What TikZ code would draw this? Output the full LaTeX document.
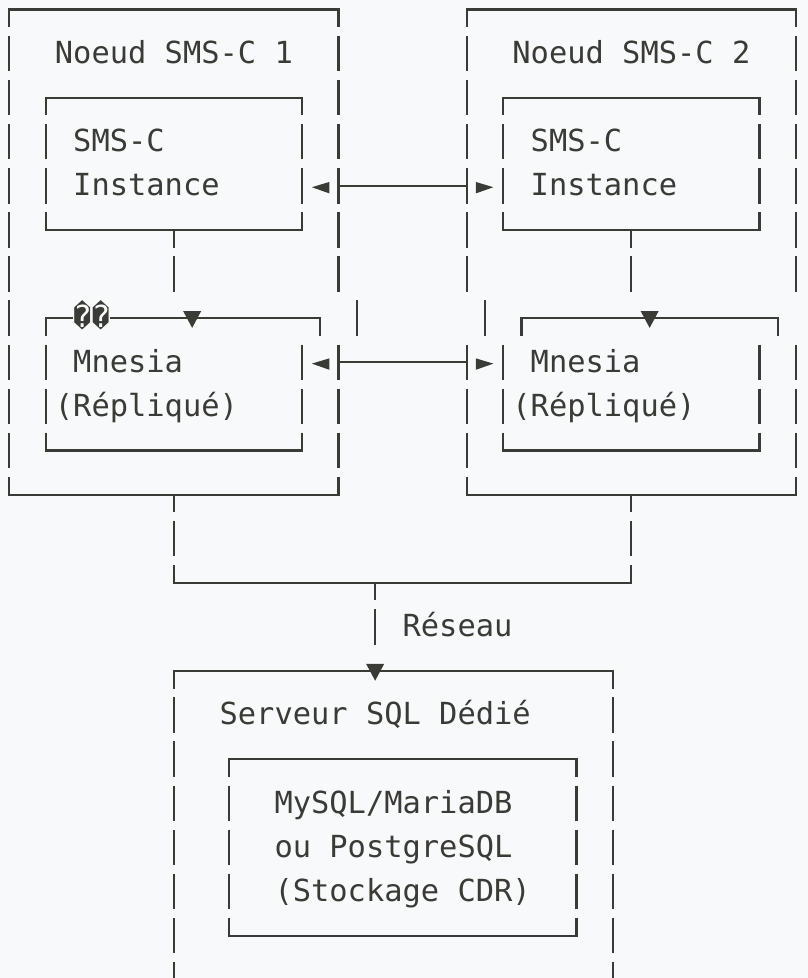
\documentclass[tikz,border=0pt]{standalone}
\usepackage{fontspec}
\usepackage{tikz}
\usetikzlibrary{positioning}
\newfontfamily\boxfont{DejaVu Sans Mono}
\definecolor{CodeInk}{HTML}{3A3B36}
\definecolor{CodePaper}{HTML}{F8F9FA}

\begin{document}
\begin{tikzpicture}[x=18.3pt, y=-44.1pt, color=CodeInk, line width=2.2pt, line cap=rect,
    every node/.style={inner sep=0pt, outer sep=0pt, anchor=base west,
                       font=\boxfont\fontsize{30.4pt}{44.1pt}\selectfont},
    vbar/.style={line cap=butt, dash pattern=on 35.4pt off 8.7pt, dash phase=17.8pt},
    vbarh/.style={vbar, dash phase=39.85pt}]
  \fill[CodePaper] (0pt,0pt) rectangle (808pt,-978pt);
  \useasboundingbox (0pt,0pt) rectangle (808pt,-978pt);
  \begin{scope}[shift={(9.15pt,-9.5pt)}]
  % noeud 1
  \draw (0,0) -- (18,0);
  \draw (0,11) -- (18,11);
  \draw[vbar] (0,0) -- (0,11);
  \draw[vbar] (18,0) -- (18,6.5);
  \draw[vbarh] (18,7.5) -- (18,11);
  \draw[vbarh] (19,6.5) -- (19,7.5);
  % noeud 2
  \draw (25,0) -- (43,0);
  \draw (25,11) -- (43,11);
  \draw[vbar] (25,0) -- (25,6.5);
  \draw[vbarh] (25,7.5) -- (25,11);
  \draw[vbarh] (26,6.5) -- (26,7.5);
  \draw[vbar] (43,0) -- (43,6.5);
  \draw[vbarh] (43,7.5) -- (43,11);
  % instances
  \draw (2,2) -- (16,2);
  \draw (2,5) -- (16,5);
  \draw[vbar] (2,2) -- (2,5);
  \draw[vbar] (16,2) -- (16,5);
  \draw (27,2) -- (41,2);
  \draw (27,5) -- (41,5);
  \draw[vbar] (27,2) -- (27,5);
  \draw[vbar] (41,2) -- (41,5);
  \draw[vbar] (9,5) -- (9,6.5);
  \draw[vbar] (34,5) -- (34,6.5);
  % mnesia
  \draw (2,7) -- (3.45,7);
  \draw (5.55,7) -- (17,7);
  \draw[vbar] (17,7) -- (17,7.5);
  \draw[vbar] (2,7) -- (2,10);
  \draw[vbarh] (16,7.5) -- (16,10);
  \draw (2,10) -- (16,10);
  \draw (28,7) -- (42,7);
  \draw[vbar] (28,7) -- (28,7.5);
  \draw[vbar] (42,7) -- (42,7.5);
  \draw[vbarh] (27,7.5) -- (27,10);
  \draw[vbarh] (41,7.5) -- (41,10);
  \draw (27,10) -- (41,10);
  % liens entre noeuds
  \foreach \r in {4,8} {
    \fill (16.54,\r+0.03) -- (17.5,\r-0.09) -- (17.5,\r+0.17) -- cycle;
    \draw (18,\r) -- (25,\r);
    \fill (25.5,\r-0.09) -- (26.46,\r+0.03) -- (25.5,\r+0.17) -- cycle;
  }
  % reseau
  \draw[vbar] (9,11) -- (9,13);
  \draw[vbar] (34,11) -- (34,13);
  \draw (9,13) -- (34,13);
  \draw[vbar] (20,13) -- (20,14.5);
  % serveur sql
  \draw (9,15) -- (33,15);
  \draw[vbar] (9,15) -- (9,22);
  \draw[vbar] (33,15) -- (33,22);
  \draw (12,17) -- (31,17);
  \draw (12,21) -- (31,21);
  \draw[vbar] (12,17) -- (12,21);
  \draw[vbar] (31,17) -- (31,21);
  \foreach \c/\r in {10/7, 35/7, 20/15}
    \fill (\c-0.49,\r-0.16) -- (\c+0.49,\r-0.16) -- (\c,\r+0.22) -- cycle;
  % textes
  \node (titleA) at (2.5,1.222) {Noeud SMS-C 1};
  \node (titleB) at (27.5,1.222) {Noeud SMS-C 2};
  \node (smscA) at (3.5,3.222) {SMS-C};
  \node (instA) at (3.5,4.222) {Instance};
  \node (smscB) at (28.5,3.222) {SMS-C};
  \node (instB) at (28.5,4.222) {Instance};
  \node (garble) at (3.5,7.222) {\char"FFFD\char"FFFD};
  \node (mnesiaA) at (3.5,8.222) {Mnesia};
  \node (replA) at (2.5,9.222) {(Répliqué)};
  \node (mnesiaB) at (28.5,8.222) {Mnesia};
  \node (replB) at (27.5,9.222) {(Répliqué)};
  \node (net) at (21.5,14.222) {Réseau};
  \node (sqlsrv) at (11.5,16.222) {Serveur SQL Dédié};
  \node (dbA) at (14.5,18.222) {MySQL/MariaDB};
  \node (dbB) at (14.5,19.222) {ou PostgreSQL};
  \node (dbC) at (14.5,20.222) {(Stockage CDR)};
  \end{scope}
\end{tikzpicture}
\end{document}
